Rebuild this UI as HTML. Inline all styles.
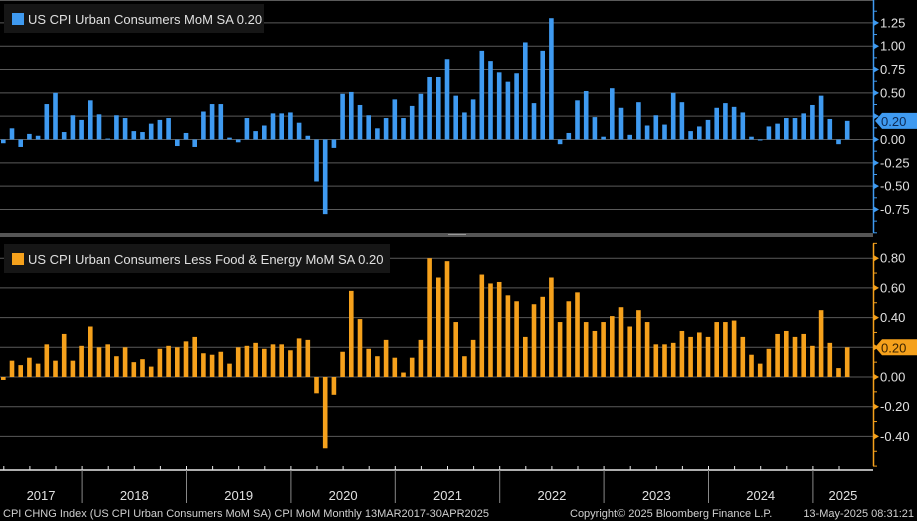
<!DOCTYPE html>
<html><head><meta charset="utf-8"><style>
html,body{margin:0;padding:0;background:#000;}
svg{display:block;font-family:"Liberation Sans",sans-serif;}
</style></head><body>
<svg id="chart" width="917" height="521" viewBox="0 0 917 521" xmlns="http://www.w3.org/2000/svg">
<rect x="0" y="0" width="917" height="521" fill="#000"/>
<g id="grid"></g>
<g id="bars"></g>
<g id="axes"></g>
<rect x="0" y="233" width="873" height="4" fill="#555"/>
<rect x="448" y="234" width="18" height="1" fill="#999"/>
<g>
<rect x="4" y="4" width="260" height="29" fill="#161616"/>
<rect x="12" y="13" width="12" height="12" fill="#3f9af0"/>
<text x="28" y="24" fill="#e0e0e0" font-size="13">US CPI Urban Consumers MoM SA 0.20</text>
</g>
<g>
<rect x="4" y="244" width="386" height="29" fill="#161616"/>
<rect x="12" y="253" width="12" height="12" fill="#f5a11c"/>
<text x="28" y="264" fill="#e0e0e0" font-size="13">US CPI Urban Consumers Less Food &amp; Energy MoM SA 0.20</text>
</g>
<text x="3" y="517" fill="#d0d0d0" font-size="11">CPI CHNG Index (US CPI Urban Consumers MoM SA) CPI MoM  Monthly 13MAR2017-30APR2025</text>
<text x="570" y="517" fill="#d0d0d0" font-size="11">Copyright© 2025 Bloomberg Finance L.P.</text>
<text x="914" y="517" fill="#d0d0d0" font-size="11" text-anchor="end">13-May-2025 08:31:21</text>
</svg>
<script>
const headline = [-0.04,0.12,-0.08,0.06,0.04,0.38,0.50,0.08,0.26,0.21,0.42,0.27,0.01,0.26,0.23,0.09,0.08,0.17,0.21,0.23,-0.07,0.07,-0.08,0.30,0.38,0.38,0.02,-0.03,0.23,0.09,0.15,0.28,0.28,0.29,
0.18,0.04,-0.45,-0.80,-0.09,0.49,0.51,0.37,0.26,0.12,0.23,0.43,0.23,0.36,0.49,0.67,0.67,0.86,0.47,0.29,0.43,0.95,0.84,0.72,0.62,0.71,1.04,0.39,0.95,1.30,-0.05,0.07,0.42,0.52,
0.24,0.03,0.55,0.34,0.05,0.40,0.15,0.26,0.16,0.50,0.40,0.09,0.14,0.21,0.34,0.39,0.35,0.29,0.03,0.00,0.14,0.17,0.23,0.23,0.28,0.37,0.47,0.22,-0.05,0.20];
const core = [-0.02,0.11,0.08,0.13,0.09,0.22,0.11,0.29,0.11,0.21,0.34,0.20,0.22,0.14,0.20,0.10,0.12,0.07,0.19,0.21,0.20,0.24,0.27,0.16,0.15,0.17,0.09,0.20,0.21,0.23,0.19,0.22,0.22,0.18,
0.26,0.25,-0.11,-0.48,-0.12,0.17,0.58,0.39,0.19,0.14,0.25,0.13,0.03,0.13,0.25,0.80,0.67,0.78,0.37,0.14,0.25,0.69,0.63,0.64,0.55,0.51,0.27,0.49,0.54,0.67,0.37,0.51,0.57,0.37,
0.31,0.37,0.41,0.47,0.34,0.45,0.37,0.22,0.22,0.23,0.31,0.27,0.30,0.27,0.37,0.37,0.38,0.27,0.15,0.09,0.19,0.29,0.31,0.27,0.29,0.21,0.45,0.23,0.06,0.20];
const topTicks = [1.25,1.00,0.75,0.50,0.25,0.00,-0.25,-0.50,-0.75];
const topTickLabels = ["1.25","1.00","0.75","0.50","0.25","0.00","-0.25","-0.50","-0.75"];
const botTicks = [0.8,0.6,0.4,0.2,0.0,-0.2,-0.4];
const botTickLabels = ["0.80","0.60","0.40","0.20","0.00","-0.20","-0.40"];
const years = ["2017","2018","2019","2020","2021","2022","2023","2024","2025"];
const lastTop = "0.20", lastBot = "0.20";

const NS="http://www.w3.org/2000/svg";
const AX=873;
function mk(tag,attrs,parent,txt){const e=document.createElementNS(NS,tag);for(const k in attrs)e.setAttribute(k,attrs[k]);if(txt!==undefined)e.textContent=txt;parent.appendChild(e);return e;}
const xOf = i => 3.3 + 8.7*i;
const yTop = v => 139.5 - v*93.3;
const yBot = v => 377 - v*148.5;
const grid=document.getElementById('grid'), bars=document.getElementById('bars'), axes=document.getElementById('axes');

function panel(vals,ticks,labels,yf,color,minStep,yMin,yMax,name,last){
  const yv=yf(vals[vals.length-1]);
  ticks.forEach((t,k)=>{
    const l=mk('line',{x1:0,x2:AX,y1:yf(t),y2:yf(t),stroke:'#5a5a5a','stroke-width':1},grid);
    
    
    const tr=mk('path',{d:`M${AX},${yf(t)-3.5}L${AX+6},${yf(t)}L${AX},${yf(t)+3.5}Z`,fill:color},axes);
    
    
    if(Math.abs(yf(t)-yv) > 13){
      const tx=mk('text',{x:AX+7,y:yf(t)+4.5,fill:'#e0e0e0','font-size':13},axes,labels[k]);
      
      
    }
  });
  for(let v=yMin; v<=yMax+1e-9; v+=minStep){
    const m=mk('line',{x1:AX,x2:AX+4,y1:yf(v),y2:yf(v),stroke:color,'stroke-width':1},axes);
    
    
  }
  const al=mk('line',{x1:AX+0.5,x2:AX+0.5,y1:yf(yMax),y2:yf(yMin),stroke:color,'stroke-width':1.5},axes);
  
  
  vals.forEach((v,i)=>{
    const y0=yf(0), y1=yf(v);
    const r=mk('rect',{x:xOf(i)-2.3,y:Math.min(y0,y1),width:4.6,height:Math.max(1,Math.abs(y1-y0)),fill:color},bars);
    
    
  });
  const tag=mk('path',{d:`M${AX+2},${yv}L${AX+9},${yv-8}L917,${yv-8}L917,${yv+8}L${AX+9},${yv+8}Z`,fill:color},axes);
  
  
  const tt=mk('text',{x:AX+8,y:yv+5,fill:name==='top'?'#0d2a55':'#3a2300','font-size':13},axes,last);
  
  
}
panel(headline,topTicks,topTickLabels,yTop,'#3f9af0',0.125,-1.0,1.5,'top',lastTop);
panel(core,botTicks,botTickLabels,yBot,'#f5a11c',0.1,-0.6,0.9,'bottom',lastBot);
const tf=mk('line',{x1:0,x2:AX,y1:0.5,y2:0.5,stroke:'#5a5a5a'},grid);


const xa=mk('line',{x1:0,x2:AX,y1:470,y2:470,stroke:'#e8e8e8','stroke-width':1.5},axes);


const OFF=8.2;
for(let i=-2;i<=98;i+=3){
  const t=mk('line',{x1:xOf(i)-OFF,x2:xOf(i)-OFF,y1:466,y2:470,stroke:'#e8e8e8'},axes);
  
  
}
years.forEach((yr,k)=>{
  const start=xOf(-2+12*k)-OFF, end=Math.min(xOf(10+12*k)-OFF,AX-20);
  if(k>0){
    const s=mk('line',{x1:start,x2:start,y1:470,y2:503,stroke:'#888'},axes);
    
    
  }
  const cx = k===0 ? (xOf(10)-OFF)/2 : (k===years.length-1 ? (start+AX)/2 : (start+end)/2);
  const t=mk('text',{x:cx,y:500,fill:'#e0e0e0','font-size':13,'text-anchor':'middle'},axes,yr);
  
  
});
</script>
</body></html>
